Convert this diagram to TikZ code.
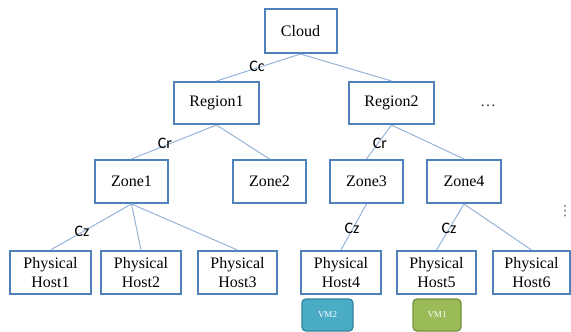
\documentclass[tikz,border=0pt]{standalone}
\usepackage{fontspec}
\setmainfont{Liberation Serif}
\newfontfamily\lblfont{Carlito}
\newfontfamily\symfont{DejaVu Sans}
\definecolor{boxblue}{HTML}{4F81BD}
\definecolor{linkblue}{HTML}{95B3D7}
\definecolor{vmteal}{HTML}{4BACC6}
\definecolor{vmtealdark}{HTML}{31859C}
\definecolor{vmgreen}{HTML}{9BBB59}
\definecolor{vmgreendark}{HTML}{76923C}
\begin{document}
\begin{tikzpicture}[x=1pt,y=-1pt,
  tbox/.style={draw=boxblue,line width=2pt,fill=white,inner sep=0pt,
    font=\fontsize{16}{19}\selectfont,align=center,minimum height=43pt},
  link/.style={draw=linkblue,line width=1pt},
  clabel/.style={font=\lblfont\fontsize{16}{18}\selectfont,inner sep=0pt},
  vmbox/.style={rounded corners=4pt,line width=1.3pt,inner sep=0pt,
    minimum height=32pt,text=white,font=\fontsize{9}{10}\selectfont}]
\useasboundingbox (0,0) rectangle (571,332);
% nodes
\node[tbox,minimum width=72pt,minimum height=44pt] (cloud) at (300.5,31) {Cloud};
\node[tbox,minimum width=85pt,minimum height=42pt] (r1) at (216.5,103) {Region1};
\node[tbox,minimum width=85pt,minimum height=42pt] (r2) at (391.5,103) {Region2};
\node[tbox,minimum width=73pt] (z1) at (131.5,181.5) {Zone1};
\node[tbox,minimum width=73pt] (z2) at (269.5,181.5) {Zone2};
\node[tbox,minimum width=73pt] (z3) at (366.5,181.5) {Zone3};
\node[tbox,minimum width=74pt] (z4) at (464,181.5) {Zone4};
\node[tbox,minimum width=81pt] (h1) at (50.5,272.5) {Physical\\Host1};
\node[tbox,minimum width=80pt] (h2) at (141,272.5) {Physical\\Host2};
\node[tbox,minimum width=79pt] (h3) at (237.5,272.5) {Physical\\Host3};
\node[tbox,minimum width=80pt] (h4) at (341,272.5) {Physical\\Host4};
\node[tbox,minimum width=79pt] (h5) at (436.5,272.5) {Physical\\Host5};
\node[tbox,minimum width=77pt] (h6) at (531.5,272.5) {Physical\\Host6};
\node[vmbox,draw=vmtealdark,fill=vmteal,minimum width=51pt] (vm2) at (327.5,315) {VM2};
\node[vmbox,draw=vmgreendark,fill=vmgreen,minimum width=48pt] (vm1) at (437,315) {VM1};
% connectors
\draw[link] (cloud.south) -- (r1.north);
\draw[link] (cloud.south) -- (r2.north);
\draw[link] (r1.south) -- (z1.north);
\draw[link] (r1.south) -- (z2.north);
\draw[link] (r2.south) -- (z3.north);
\draw[link] (r2.south) -- (z4.north);
\draw[link] (z1.south) -- (h1.north);
\draw[link] (z1.south) -- (h2.north);
\draw[link] (z1.south) -- (h3.north);
\draw[link] (z3.south) -- (h4.north);
\draw[link] (z4.south) -- (h5.north);
\draw[link] (z4.south) -- (h6.north);
% labels
\node[clabel] (lcc) at (257,66) {Cc};
\node[clabel] (lcr1) at (165,143) {Cr};
\node[clabel] (lcr2) at (380,143) {Cr};
\node[clabel] (lcz1) at (82,231) {Cz};
\node[clabel] (lcz3) at (352,228) {Cz};
\node[clabel] (lcz4) at (449,228) {Cz};
\node[inner sep=0pt,text=black!75,font=\fontsize{16}{16}\selectfont] (dots) at (488,106) {…};
\node[inner sep=0pt,text=black!60,font=\symfont\fontsize{14}{14}\selectfont] (vdots) at (565,211) {⋮};
\end{tikzpicture}
\end{document}
